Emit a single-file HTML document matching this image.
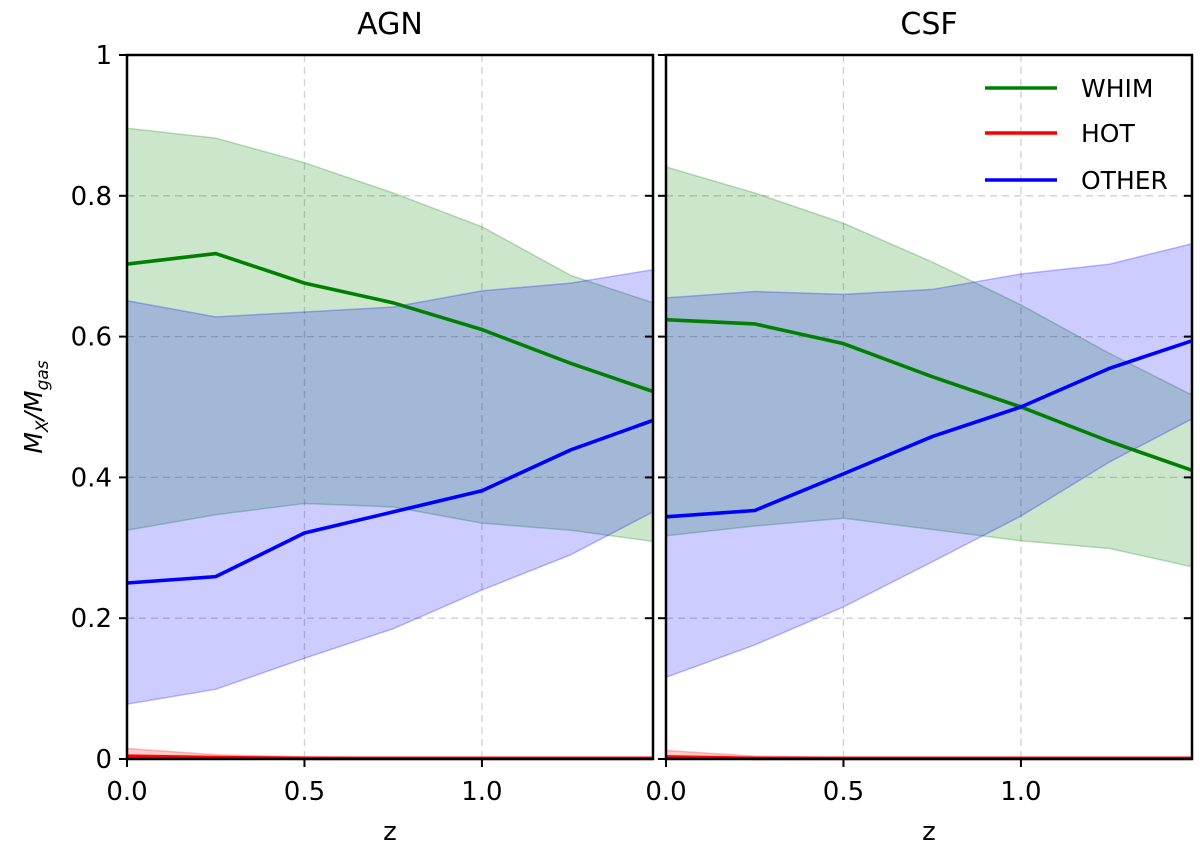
<!DOCTYPE html>
<html><head><meta charset="utf-8"><style>
body{margin:0;background:#fff;}
svg text{font-family:"DejaVu Sans","Liberation Sans",sans-serif;fill:#000;}
</style></head><body>
<svg id="chart" width="1200" height="854" xmlns="http://www.w3.org/2000/svg"></svg>
<script>
const zVals=[0,0.25,0.5,0.75,1.0,1.25,1.482];
const agnWhimMean=[0.703,0.718,0.676,0.648,0.610,0.562,0.522];
const agnWhimUp=[0.896,0.882,0.847,0.804,0.756,0.687,0.648];
const agnWhimLo=[0.325,0.347,0.363,0.358,0.335,0.325,0.309];
const agnOtherMean=[0.250,0.259,0.321,0.351,0.381,0.439,0.481];
const agnOtherUp=[0.651,0.628,0.635,0.642,0.665,0.676,0.695];
const agnOtherLo=[0.078,0.099,0.143,0.185,0.240,0.290,0.351];
const agnHotMean=[0.004,0.002,0.001,0.001,0.001,0.001,0.001];
const agnHotUp=[0.015,0.006,0.003,0.002,0.002,0.002,0.002];
const csfWhimMean=[0.624,0.618,0.590,0.543,0.500,0.451,0.410];
const csfWhimUp=[0.841,0.804,0.761,0.706,0.645,0.576,0.517];
const csfWhimLo=[0.317,0.331,0.342,0.326,0.310,0.299,0.273];
const csfOtherMean=[0.344,0.353,0.405,0.458,0.500,0.555,0.594];
const csfOtherUp=[0.655,0.664,0.660,0.667,0.689,0.703,0.732];
const csfOtherLo=[0.116,0.162,0.216,0.280,0.345,0.422,0.483];
const csfHotMean=[0.003,0.001,0.001,0.001,0.001,0.001,0.001];
const csfHotUp=[0.012,0.004,0.002,0.002,0.002,0.002,0.002];
const yTicks=[0,0.2,0.4,0.6,0.8,1];
const yTickLabels=["0","0.2","0.4","0.6","0.8","1"];
const xTicks=[0,0.5,1.0];
const xTickLabels=["0.0","0.5","1.0"];

const NS="http://www.w3.org/2000/svg";
const svg=document.getElementById('chart');
function mk(tag,attrs,parent){const e=document.createElementNS(NS,tag);for(const k in attrs)e.setAttribute(k,attrs[k]);(parent||svg).appendChild(e);return e;}
const Y0=759,Y1=55;
function sy(v){return Y0-(Y0-Y1)*v;}
function panel(x0,x1,title,wm,wu,wl,om,ou,ol,hm,hu,name,showY){
  const sx=z=>x0+(x1-x0)*z/1.482;
  const g=mk('g',{});
  
  
  xTicks.forEach(t=>{if(t>0){const l=mk('line',{x1:sx(t),x2:sx(t),y1:Y1,y2:Y0,stroke:'#d0d0d0','stroke-dasharray':'7,5','stroke-width':1.3},g);}});
  yTicks.forEach(t=>{if(t>0&&t<1){const l=mk('line',{x1:x0,x2:x1,y1:sy(t),y2:sy(t),stroke:'#d0d0d0','stroke-dasharray':'7,5','stroke-width':1.3},g);}});
  const band=(up,lo,col,nm)=>{let d='M'+zVals.map((z,i)=>sx(z)+','+sy(up[i])).join('L');for(let i=zVals.length-1;i>=0;i--)d+='L'+sx(zVals[i])+','+sy(lo[i]);d+='Z';const p=mk('path',{d:d,fill:col,'fill-opacity':0.2,stroke:col,'stroke-opacity':0.25,'stroke-width':1.5},g);};
  const line=(m,col,nm)=>{const p=mk('polyline',{points:zVals.map((z,i)=>sx(z)+','+sy(m[i])).join(' '),fill:'none',stroke:col,'stroke-width':3.6},g);};
  band(wu,wl,'#008000','whim-band');
  band(ou,ol,'#0000ff','other-band');
  band(hu,zVals.map(()=>0),'#ff0000','hot-band');
  line(wm,'#008000','whim-line');
  line(hm,'#ff0000','hot-line');
  line(om,'#0000ff','other-line');
  const fr=mk('rect',{x:x0,y:Y1,width:x1-x0,height:Y0-Y1,fill:'none',stroke:'#000','stroke-width':2.5},g);
  
  xTicks.forEach((t,i)=>{mk('line',{x1:sx(t),x2:sx(t),y1:Y0,y2:Y0+8,stroke:'#000','stroke-width':2},g);const tx=mk('text',{x:sx(t),y:Y0+41,'font-size':26,'text-anchor':'middle'},g);tx.textContent=xTickLabels[i];});
  yTicks.forEach((t,i)=>{mk('line',{x1:x0-8,x2:x0,y1:sy(t),y2:sy(t),stroke:'#000','stroke-width':2},g);mk('line',{x1:x1-8,x2:x1,y1:sy(t),y2:sy(t),stroke:'#000','stroke-width':2},g);
    if(showY){const tx=mk('text',{x:x0-15,y:sy(t)+9,'font-size':26,'text-anchor':'end'},g);tx.textContent=yTickLabels[i];}});
  const tt=mk('text',{x:(x0+x1)/2,y:34,'font-size':30,'text-anchor':'middle'},g);tt.textContent=title;
  const xl=mk('text',{x:(x0+x1)/2,y:840,'font-size':26,'text-anchor':'middle'},g);xl.textContent='z';
}
panel(127,653,'AGN',agnWhimMean,agnWhimUp,agnWhimLo,agnOtherMean,agnOtherUp,agnOtherLo,agnHotMean,agnHotUp,'agn-panel',true);
panel(666,1192,'CSF',csfWhimMean,csfWhimUp,csfWhimLo,csfOtherMean,csfOtherUp,csfOtherLo,csfHotMean,csfHotUp,'csf-panel',false);
const yl=mk('text',{x:0,y:0,'font-size':25,'text-anchor':'middle','font-style':'italic',transform:'translate(42,407) rotate(-90)'});

yl.innerHTML='M<tspan font-size="17" dy="6">X</tspan><tspan dy="-6">/M</tspan><tspan font-size="17" dy="6">gas</tspan>';
const legNames=["WHIM","HOT","OTHER"],legCols=["#008000","#ff0000","#0000ff"],legY=[88,133,180];
legNames.forEach((n,i)=>{const g=mk('g',{});
  mk('line',{x1:985,x2:1057,y1:legY[i],y2:legY[i],stroke:legCols[i],'stroke-width':3.6},g);
  const t=mk('text',{x:1081,y:legY[i]+9,'font-size':25},g);t.textContent=n;});
</script>
</body></html>
